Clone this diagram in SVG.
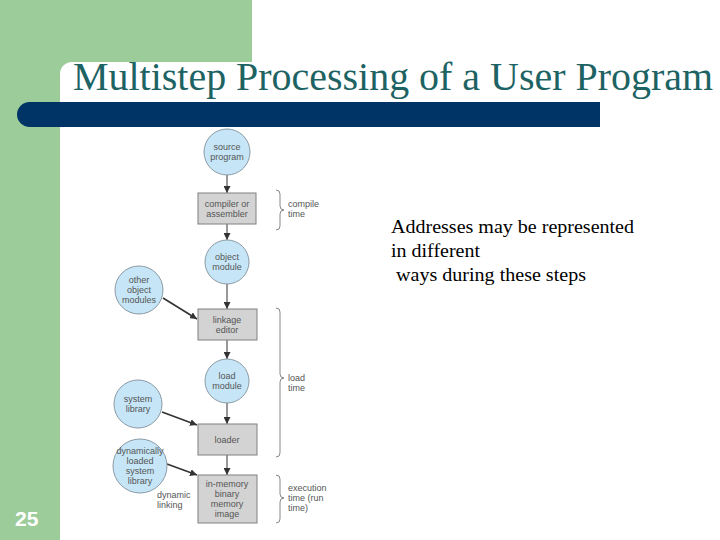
<svg xmlns="http://www.w3.org/2000/svg" width="720" height="540" viewBox="0 0 720 540">
<defs>
<marker id="ah" viewBox="0 0 10 10" refX="10" refY="5" markerWidth="7" markerHeight="7" markerUnits="userSpaceOnUse" orient="auto">
<path d="M0,0 L10,5 L0,10 z" fill="#333"/>
</marker>
<style>
.c{fill:#c6e6f7;stroke:#8a9aa5;stroke-width:1}
.b{fill:#d3d3d3;stroke:#808080;stroke-width:1}
.t{font-family:"Liberation Sans",Arial,sans-serif;font-size:9px;fill:#555;text-anchor:middle}
.l{font-family:"Liberation Sans",Arial,sans-serif;font-size:9px;fill:#555}
.e{stroke:#333;stroke-width:1;fill:none;marker-end:url(#ah)}
.k{stroke:#333;stroke-width:1.6;fill:none;marker-end:url(#ah)}
.br{stroke:#888;stroke-width:1;fill:none}
</style>
</defs>
<rect width="720" height="540" fill="#fff"/>
<rect x="0" y="0" width="252" height="80" fill="#9ccc9a"/>
<rect x="0" y="0" width="60" height="540" fill="#9ccc9a"/>
<rect x="60" y="62" width="700" height="500" rx="12" fill="#fff"/>
<rect x="17" y="102" width="583" height="25" rx="12.5" fill="#003366"/>
<rect x="580" y="102" width="20" height="25" fill="#003366"/>
<text x="73" y="90" font-family="Liberation Serif,'Times New Roman',serif" font-size="40" fill="#1d6363" textLength="640" lengthAdjust="spacingAndGlyphs">Multistep Processing of a User Program</text>
<text x="15" y="526" font-family="Liberation Sans,Arial,sans-serif" font-size="21" font-weight="bold" fill="#fff">25</text>
<g font-family="Liberation Serif,'Times New Roman',serif" font-size="18" fill="#000">
<text x="391" y="233" textLength="243" lengthAdjust="spacingAndGlyphs">Addresses may be represented</text>
<text x="391" y="257" textLength="89" lengthAdjust="spacingAndGlyphs">in different</text>
<text x="391" y="281" xml:space="preserve" textLength="195" lengthAdjust="spacingAndGlyphs"> ways during these steps</text>
</g>
<g id="connectors">
<line class="e" x1="227" y1="175" x2="227" y2="193"/>
<line class="e" x1="227" y1="224" x2="227" y2="240"/>
<line class="e" x1="227" y1="284" x2="227" y2="309"/>
<line class="k" x1="163" y1="298" x2="197" y2="319"/>
<line class="e" x1="227" y1="340" x2="227" y2="359"/>
<line class="e" x1="227" y1="403" x2="227" y2="424"/>
<line class="k" x1="162" y1="412" x2="197" y2="425"/>
<line class="e" x1="227" y1="455" x2="227" y2="475"/>
<line class="k" x1="167" y1="464" x2="197" y2="475"/>
</g>
<g id="src"><circle class="c" cx="227" cy="152" r="23"/><text class="t" x="227" y="150">source</text><text class="t" x="227" y="160">program</text></g>
<g id="comp"><rect class="b" x="198" y="193" width="58" height="31"/><text class="t" x="227" y="207">compiler or</text><text class="t" x="227" y="217">assembler</text></g>
<g id="obj"><circle class="c" cx="227" cy="262" r="22"/><text class="t" x="227" y="260">object</text><text class="t" x="227" y="270">module</text></g>
<g id="other"><circle class="c" cx="139" cy="290" r="24"/><text class="t" x="139" y="283">other</text><text class="t" x="139" y="293">object</text><text class="t" x="139" y="303">modules</text></g>
<g id="link"><rect class="b" x="198" y="309" width="59" height="31"/><text class="t" x="227" y="323">linkage</text><text class="t" x="227" y="333">editor</text></g>
<g id="load"><circle class="c" cx="227" cy="381" r="22"/><text class="t" x="227" y="379">load</text><text class="t" x="227" y="389">module</text></g>
<g id="syslib"><circle class="c" cx="138" cy="404" r="24"/><text class="t" x="138" y="402">system</text><text class="t" x="138" y="412">library</text></g>
<g id="loader"><rect class="b" x="198" y="424" width="59" height="31"/><text class="t" x="227" y="443">loader</text></g>
<g id="dyn"><circle class="c" cx="140" cy="466" r="27"/><text class="t" x="140" y="454">dynamically</text><text class="t" x="140" y="464">loaded</text><text class="t" x="140" y="474">system</text><text class="t" x="140" y="484">library</text></g>
<g id="mem"><rect class="b" x="198" y="475" width="59" height="48"/><text class="t" x="227" y="487">in-memory</text><text class="t" x="227" y="497">binary</text><text class="t" x="227" y="507">memory</text><text class="t" x="227" y="517">image</text></g>
<g id="dynlink"><text class="l" x="157" y="498">dynamic</text><text class="l" x="157" y="508">linking</text></g>
<g id="braces">
<path class="br" d="M276,190 Q280,190 280,194 L280,206 Q280,210 284,210 Q280,210 280,214 L280,226 Q280,230 276,230"/>
<text class="l" x="288" y="207">compile</text><text class="l" x="288" y="217">time</text>
<path class="br" d="M276,308 Q280,308 280,312 L280,374 Q280,378 284,378 Q280,378 280,382 L280,453 Q280,457 276,457"/>
<text class="l" x="288" y="381">load</text><text class="l" x="288" y="391">time</text>
<path class="br" d="M276,475 Q280,475 280,479 L280,494 Q280,498 284,498 Q280,498 280,502 L280,519 Q280,523 276,523"/>
<text class="l" x="288" y="491">execution</text><text class="l" x="288" y="501">time (run</text><text class="l" x="288" y="511">time)</text>
</g>
</svg>
